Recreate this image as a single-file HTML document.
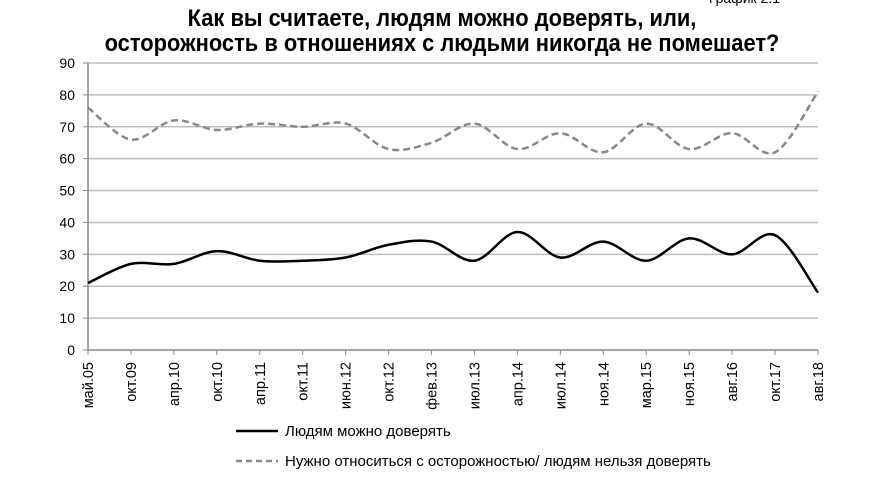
<!DOCTYPE html>
<html><head><meta charset="utf-8"><style>
body{margin:0;background:#fff;width:880px;height:482px;overflow:hidden;font-family:"Liberation Sans",sans-serif}
svg{display:block}
</style></head><body>
<svg width="880" height="482" id="c">
<text x="780" y="3" text-anchor="end" font-size="14">График 2.1</text>
<text x="442" y="26" text-anchor="middle" font-size="23.8" font-weight="bold" transform="scale(0.92,1)" transform-origin="442 0">Как вы считаете, людям можно доверять, или,</text>
<text x="442" y="51" text-anchor="middle" font-size="23.8" font-weight="bold" transform="scale(0.92,1)" transform-origin="442 0">осторожность в отношениях с людьми никогда не помешает?</text>
<g id="grid"></g><g id="axes"></g><g id="series"></g>
<g>
<line x1="236" y1="431" x2="278" y2="431" stroke="#000" stroke-width="2.5"/>
<text x="285" y="436" font-size="15">Людям можно доверять</text>
<line x1="236" y1="461" x2="278" y2="461" stroke="#888" stroke-width="2.5" stroke-dasharray="6,4"/>
<text x="285" y="466" font-size="15">Нужно относиться с осторожностью/ людям нельзя доверять</text>
</g>
</svg>
<script>
const categories=["май.05","окт.09","апр.10","окт.10","апр.11","окт.11","июн.12","окт.12","фев.13","июл.13","апр.14","июл.14","ноя.14","мар.15","ноя.15","авг.16","окт.17","авг.18"];
const trustValues=[21,27,27,31,28,28,29,33,34,28,37,29,34,28,35,30,36,18];
const cautionValues=[76,66,72,69,71,70,71,63,65,71,63,68,62,71,63,68,62,81];
const yTicks=[0,10,20,30,40,50,60,70,80,90];
const NS="http://www.w3.org/2000/svg";
const X0=88,X1=818,Y0=350,Y1=63;
const xs=i=>X0+(X1-X0)*i/(categories.length-1);
const ys=v=>Y0-(Y0-Y1)*v/90;
function mk(tag,attrs,parent){const e=document.createElementNS(NS,tag);for(const k in attrs)e.setAttribute(k,attrs[k]);document.getElementById(parent).appendChild(e);return e;}
yTicks.forEach(t=>{
 if(t>0){const g=mk('line',{x1:X0,x2:X1,y1:ys(t),y2:ys(t),stroke:'#bdbdbd','stroke-width':1.5},'grid');
 
 }
 const l=mk('text',{x:X0-13,y:ys(t)+5,'text-anchor':'end','font-size':14},'axes');l.textContent=t;
 
 
 const tk=mk('line',{x1:X0-5,x2:X0,y1:ys(t),y2:ys(t),stroke:'#888'},'axes');
 
 
});
const ya=mk('line',{x1:X0,x2:X0,y1:Y1,y2:Y0,stroke:'#888','stroke-width':1.5},'axes');


const xa=mk('line',{x1:X0,x2:X1,y1:Y0,y2:Y0,stroke:'#888','stroke-width':1.5},'axes');


categories.forEach((c,i)=>{
 const x=xs(i);
 const tk=mk('line',{x1:x,x2:x,y1:Y0,y2:Y0+5,stroke:'#888'},'axes');
 
 
 const t=mk('text',{x:0,y:0,'text-anchor':'end','font-size':14.5,transform:`translate(${x+5},${Y0+12}) rotate(-90)`},'axes');
 t.textContent=c;
 
 
});
function smooth(vals){
 const p=vals.map((v,i)=>[xs(i),ys(v)]);let d=`M${p[0][0]},${p[0][1]}`;
 for(let i=0;i<p.length-1;i++){const a=p[Math.max(0,i-1)],b=p[i],c=p[i+1],e=p[Math.min(p.length-1,i+2)];
 const c1=[b[0]+(c[0]-a[0])/6,b[1]+(c[1]-a[1])/6],c2=[c[0]-(e[0]-b[0])/6,c[1]-(e[1]-b[1])/6];
 d+=` C${c1[0]},${c1[1]} ${c2[0]},${c2[1]} ${c[0]},${c[1]}`;}
 return d;}
const s1=mk('path',{d:smooth(cautionValues),fill:'none',stroke:'#888','stroke-width':2.5,'stroke-dasharray':'7,4'},'series');


const s2=mk('path',{d:smooth(trustValues),fill:'none',stroke:'#000','stroke-width':2.5},'series');


</script>
</body></html>
